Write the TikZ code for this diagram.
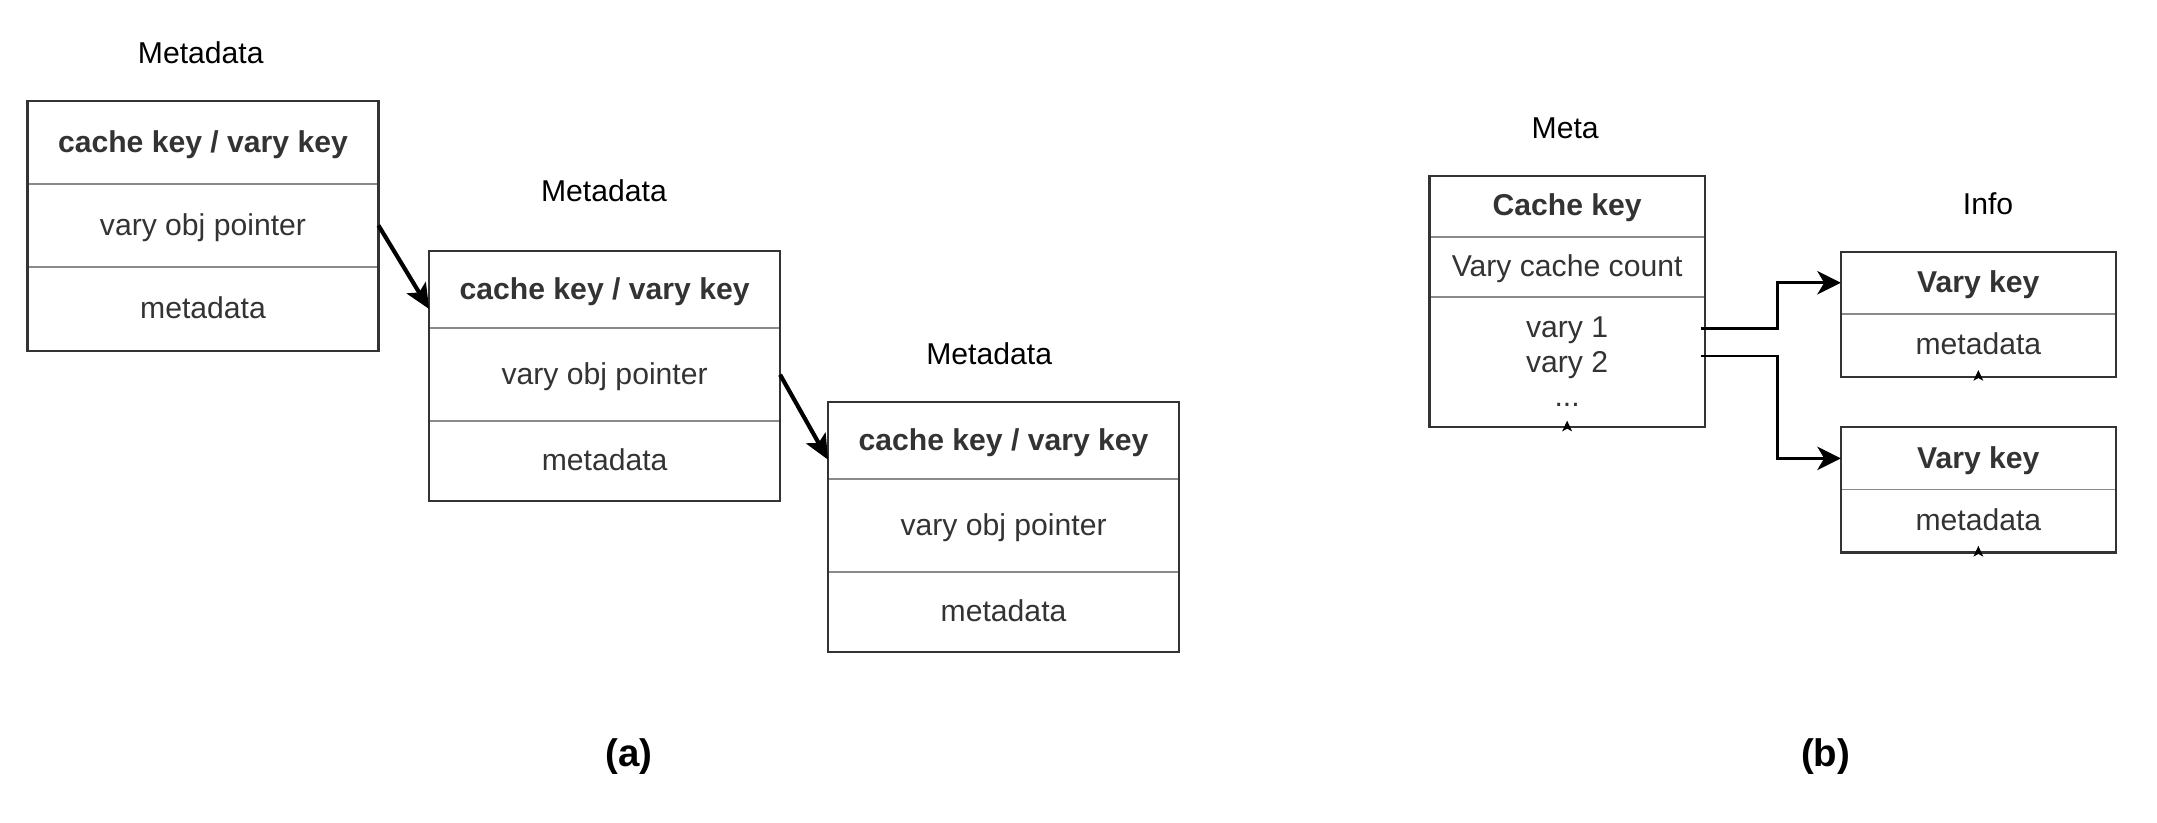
\documentclass[tikz,border=0pt]{standalone}
\usepackage{fontspec}
\setmainfont{Liberation Sans}
\usepackage{xcolor}
\usetikzlibrary{positioning,arrows.meta}
\definecolor{txtgray}{HTML}{333333}
\definecolor{rulegray}{HTML}{8A8A8A}
\tikzset{
cell/.style={
  rectangle,
  draw=rulegray,
  line width=0.7pt,
  inner sep=0pt,
  outer sep=0pt,
  text=txtgray,
  align=center,
  font=\fontsize{10.9}{12.5}\selectfont
},
oneline/.style={text height=8pt,text depth=1pt},
acell/.style={cell,oneline,minimum width=126.9pt},
bcell/.style={cell,minimum width=99.5pt},
head/.style={font=\fontsize{10.9}{12.5}\selectfont\bfseries},
frame/.style={draw=txtgray,line width=0.8pt},
title/.style={font=\fontsize{10.9}{13}\selectfont},
caption/.style={font=\fontsize{13.9}{16}\selectfont\bfseries},
ptr/.style={line width=1.5pt,-{Stealth[length=9pt,width=8pt,inset=2pt]}},
link/.style={line width=1pt,-{Stealth[length=8.5pt,width=8.5pt,inset=2.5pt]}},
}
% little tip under a box
\newcommand{\tipmark}[1]{%
  \fill ([xshift=-1.8pt,yshift=-1.5pt]#1) -- ([yshift=2.4pt]#1) --
        ([xshift=1.8pt,yshift=-1.5pt]#1) -- ([yshift=-0.5pt]#1) -- cycle;}

\begin{document}
\begin{tikzpicture}
\useasboundingbox (0,0) rectangle (780pt,-297.5pt);
% the (a) chain
\node[title] (t1) at (72.6pt,-19pt) {Metadata};
\node[acell,head,anchor=north,minimum height=30pt] (a1k) at (73.4pt,-36.5pt) {cache key / vary key};
\node[acell,minimum height=30pt,below=0pt of a1k] (a1p) {vary obj pointer};
\node[acell,minimum height=30.5pt,below=0pt of a1p] (a1m) {metadata};
\draw[frame] (a1k.north west) rectangle (a1m.south east);

\node[title] (t2) at (218.4pt,-69pt) {Metadata};
\node[acell,head,anchor=north,minimum height=28pt] (a2k) at (218.65pt,-90.75pt) {cache key / vary key};
\node[acell,minimum height=33.5pt,below=0pt of a2k] (a2p) {vary obj pointer};
\node[acell,minimum height=29pt,below=0pt of a2p] (a2m) {metadata};
\draw[frame] (a2k.north west) rectangle (a2m.south east);

\node[title] (t3) at (357.7pt,-128pt) {Metadata};
\node[acell,head,anchor=north,minimum height=28pt] (a3k) at (362.9pt,-145.25pt) {cache key / vary key};
\node[acell,minimum height=33.5pt,below=0pt of a3k] (a3p) {vary obj pointer};
\node[acell,minimum height=29pt,below=0pt of a3p] (a3m) {metadata};
\draw[frame] (a3k.north west) rectangle (a3m.south east);

\draw[ptr] (a1p.east) -- ([yshift=-7pt]a2k.west);
\draw[ptr] (a2p.east) -- ([yshift=-7pt]a3k.west);

\node[caption] (ca) at (227.4pt,-273.5pt) {(a)};

% the (b) table
\node[title] (tm) at (566pt,-46.4pt) {Meta};
\node[bcell,oneline,head,anchor=north,minimum height=22pt] (mk) at (566.7pt,-63.6pt) {Cache key};
\node[bcell,oneline,minimum height=21.7pt,below=0pt of mk] (mc) {Vary cache count};
\node[bcell,minimum height=47.2pt,below=0pt of mc] (mv) {vary 1\\vary 2\\...};
\draw[frame] (mk.north west) rectangle (mv.south east);

\node[title] (ti) at (718.9pt,-73.5pt) {Info};
\node[bcell,oneline,head,anchor=north,minimum height=22.5pt] (ik1) at (715.4pt,-91pt) {Vary key};
\node[bcell,oneline,minimum height=22.7pt,below=0pt of ik1] (im1) {metadata};
\draw[frame] (ik1.north west) rectangle (im1.south east);

\node[bcell,oneline,head,anchor=north,minimum height=22.5pt] (ik2) at (715.4pt,-154.5pt) {Vary key};
\node[bcell,oneline,minimum height=22.8pt,below=0pt of ik2] (im2) {metadata};
\draw[frame] (ik2.north west) rectangle (im2.south east);

\coordinate (v1) at ([xshift=-1.5pt,yshift=12.2pt]mv.east);
\coordinate (v2) at ([xshift=-1.5pt,yshift=2.2pt]mv.east);
\draw[link] (v1) -- ++(27.9pt,0) |- (ik1.west);
\draw[link] (v2) -- ++(27.9pt,0) |- (ik2.west);

\tipmark{mv.south}
\tipmark{im1.south}
\tipmark{im2.south}

\node[caption] (cb) at (660.2pt,-273.5pt) {(b)};
\end{tikzpicture}
\end{document}
